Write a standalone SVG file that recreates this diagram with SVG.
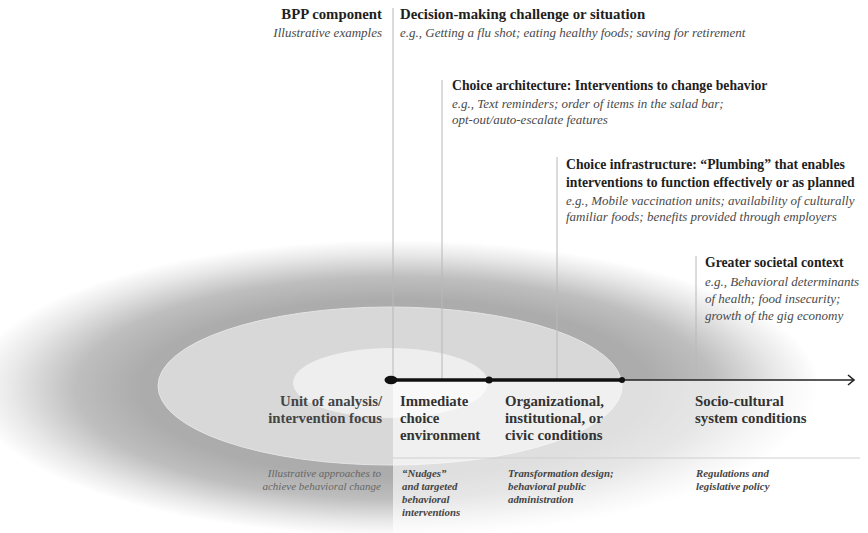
<svg xmlns="http://www.w3.org/2000/svg" width="868" height="533" viewBox="0 0 868 533">
<style>
text{font-family:"Liberation Serif","Times New Roman",serif}
.h{font-weight:bold;font-size:13.7px;fill:#1e1e1e}
.h1{font-weight:bold;font-size:14.8px;fill:#1e1e1e}
.ex{font-style:italic;font-size:13px;fill:#4a4a4a}
.b{font-weight:bold;font-size:14.8px;fill:#333}
.ap{font-style:italic;font-weight:bold;font-size:10.8px;fill:#444}
.apl{font-style:italic;font-size:11px;fill:#666}
.vl{stroke:#b8b8b8;stroke-width:1;fill:none}
</style>
<defs>
<radialGradient id="outer" cx="0.5" cy="0.5" r="0.5">
<stop offset="0" stop-color="#aaaaaa"/>
<stop offset="0.6" stop-color="#acacac"/>
<stop offset="0.75" stop-color="#bebebe"/>
<stop offset="0.9" stop-color="#e8e8e8"/>
<stop offset="1" stop-color="#ffffff"/>
</radialGradient>
<marker id="arr" markerWidth="12" markerHeight="12" refX="9" refY="6" orient="auto" markerUnits="userSpaceOnUse">
<path d="M3,1 L9,6 L3,11" fill="none" stroke="#222" stroke-width="1.6"/>
</marker>
</defs>
<rect width="868" height="533" fill="#fff"/>
<g id="background">
<ellipse cx="395" cy="388" rx="425" ry="148" fill="url(#outer)"/>
<ellipse cx="390" cy="386" rx="232" ry="79" fill="#d8d8d8" stroke="#e4e4e4" stroke-width="1"/>
<ellipse cx="390.5" cy="383" rx="97.5" ry="35" fill="#eeeeee"/>
<rect x="393" y="380" width="475" height="153" fill="#fff" fill-opacity="0.62"/>
<line x1="393" y1="458" x2="860" y2="458" stroke="#cfcfcf" stroke-width="1"/>
</g>
<g id="header">
<text class="h1" x="382" y="19" text-anchor="end">BPP component</text>
<text class="ex" x="382" y="37" text-anchor="end">Illustrative examples</text>
</g>
<g id="decision">
<line class="vl" x1="393" y1="8" x2="393" y2="380"/>
<text class="h1" x="400" y="19">Decision-making challenge or situation</text>
<text class="ex" x="400" y="37">e.g., Getting a flu shot; eating healthy foods; saving for retirement</text>
</g>
<g id="architecture">
<line class="vl" x1="442" y1="80" x2="442" y2="380"/>
<text class="h" x="452" y="90">Choice architecture: Interventions to change behavior</text>
<text class="ex" x="452" y="108">e.g., Text reminders; order of items in the salad bar;</text>
<text class="ex" x="452" y="124">opt-out/auto-escalate features</text>
</g>
<g id="infrastructure">
<line class="vl" x1="557" y1="157" x2="557" y2="380"/>
<text class="h" x="566" y="169">Choice infrastructure: “Plumbing” that enables</text>
<text class="h" x="566" y="187">interventions to function effectively or as planned</text>
<text class="ex" x="566" y="205">e.g., Mobile vaccination units; availability of culturally</text>
<text class="ex" x="566" y="221">familiar foods; benefits provided through employers</text>
</g>
<g id="societal">
<line class="vl" x1="696" y1="256" x2="696" y2="380"/>
<text class="h" x="705" y="267">Greater societal context</text>
<text class="ex" x="705" y="286">e.g., Behavioral determinants</text>
<text class="ex" x="705" y="303">of health; food insecurity;</text>
<text class="ex" x="705" y="320">growth of the gig economy</text>
</g>
<g id="connectors">
<line x1="622" y1="380" x2="854" y2="380" stroke="#222" stroke-width="1.4" marker-end="url(#arr)"/>
<line x1="392" y1="380" x2="622" y2="380" stroke="#111" stroke-width="3.5"/>
<ellipse cx="391" cy="380" rx="6.5" ry="4.2" fill="#111"/>
<circle cx="489" cy="380" r="3.6" fill="#111"/>
<circle cx="622" cy="380" r="3" fill="#111"/>
</g>
<g id="unit-label">
<text class="b" x="382" y="406" text-anchor="end" style="fill:#444">Unit of analysis/</text>
<text class="b" x="382" y="423" text-anchor="end" style="fill:#444">intervention focus</text>
<text class="apl" x="381" y="477" text-anchor="end">Illustrative approaches to</text>
<text class="apl" x="381" y="490" text-anchor="end">achieve behavioral change</text>
</g>
<g id="immediate">
<text class="b" x="400" y="406">Immediate</text>
<text class="b" x="400" y="423">choice</text>
<text class="b" x="400" y="440">environment</text>
<text class="ap" x="402" y="477">“Nudges”</text>
<text class="ap" x="402" y="490">and targeted</text>
<text class="ap" x="402" y="503">behavioral</text>
<text class="ap" x="402" y="516">interventions</text>
</g>
<g id="organizational">
<text class="b" x="505" y="406">Organizational,</text>
<text class="b" x="505" y="423">institutional, or</text>
<text class="b" x="505" y="440">civic conditions</text>
<text class="ap" x="508" y="477">Transformation design;</text>
<text class="ap" x="508" y="490">behavioral public</text>
<text class="ap" x="508" y="503">administration</text>
</g>
<g id="sociocultural">
<text class="b" x="695" y="406">Socio-cultural</text>
<text class="b" x="695" y="423">system conditions</text>
<text class="ap" x="696" y="477">Regulations and</text>
<text class="ap" x="696" y="490">legislative policy</text>
</g>
</svg>
